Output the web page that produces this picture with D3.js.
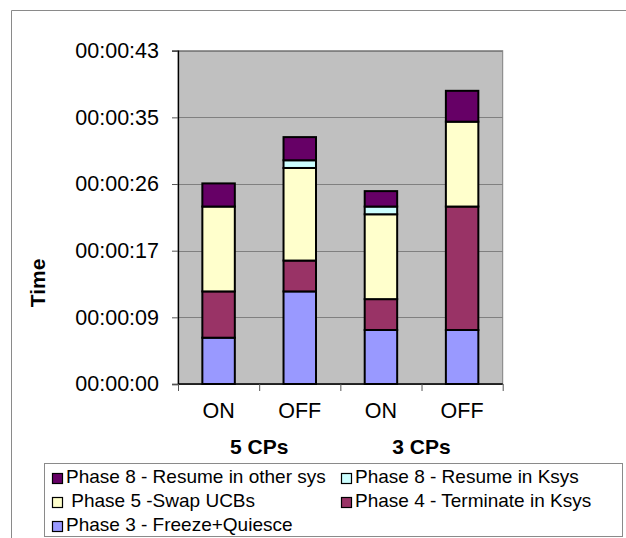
<!DOCTYPE html>
<html>
<head>
<meta charset="utf-8">
<script src="https://cdn.jsdelivr.net/npm/d3@7"></script>
<style>
  html, body { margin: 0; padding: 0; background: #ffffff; }
  svg { display: block; font-family: "Liberation Sans", Arial, Helvetica, sans-serif; }
</style>
</head>
<body>
<svg id="chart" width="626" height="538"></svg>
<script>
// Bar categories and their groups
const categories = ["ON", "OFF", "ON", "OFF"];
const groups = ["5 CPs", "3 CPs"];

// Phase durations in seconds, one value per bar (stacked bottom to top)
const phase3 = [6, 12, 7, 7];
const phase4 = [6, 4, 4, 16];
const phase5 = [11, 12, 11, 11];
const phase8Ksys = [0, 1, 1, 0];
const phase8Other = [3, 3, 2, 4];

const seriesNames = [
  "Phase 3 - Freeze+Quiesce",
  "Phase 4 - Terminate in Ksys",
  " Phase 5 -Swap UCBs",
  "Phase 8 - Resume in Ksys",
  "Phase 8 - Resume in other sys"
];
const seriesColors = ["#9999FF", "#993366", "#FFFFCC", "#CCFFFF", "#660066"];

// Axis ticks in seconds (steps of 0.0001 day)
const yTicks = [0, 8.64, 17.28, 25.92, 34.56, 43.2];

const seriesValues = [phase3, phase4, phase5, phase8Ksys, phase8Other];
const table = categories.map((c, i) => {
  const row = { idx: i };
  seriesNames.forEach((s, k) => { row[s] = seriesValues[k][i]; });
  return row;
});

const svg = d3.select("#chart");
const plot = { left: 178, top: 50.7, right: 502.7, bottom: 384 };

// Outer chart frame
svg.append("path")
  .attr("d", "M11.5,538 V10.5 H626")
  .attr("fill", "none")
  .attr("stroke", "#8a8a8a")
  .attr("stroke-width", 1);

const x = d3.scaleBand()
  .domain(d3.range(categories.length))
  .range([plot.left, plot.right])
  .paddingInner(0.6)
  .paddingOuter(0.3);
const xCat = d3.scaleBand()
  .domain(d3.range(categories.length))
  .range([plot.left, plot.right]);
const y = d3.scaleLinear()
  .domain([0, yTicks[yTicks.length - 1]])
  .range([plot.bottom, plot.top]);

// Plot area background
svg.append("rect")
  .attr("x", plot.left).attr("y", plot.top)
  .attr("width", plot.right - plot.left)
  .attr("height", plot.bottom - plot.top)
  .attr("fill", "#C0C0C0")
  .attr("stroke", "#808080")
  .attr("stroke-width", 1);

// Gridlines
svg.append("g")
  .selectAll("line")
  .data(yTicks)
  .join("line")
  .attr("x1", plot.left).attr("x2", plot.right)
  .attr("y1", d => Math.round(y(d)) + 0.5)
  .attr("y2", d => Math.round(y(d)) + 0.5)
  .attr("stroke", "#808080")
  .attr("stroke-width", 1);

// Stacked bars
const stack = d3.stack().keys(seriesNames);
const layers = stack(table);
svg.append("g")
  .selectAll("g")
  .data(layers)
  .join("g")
  .attr("fill", (d, i) => seriesColors[i])
  .selectAll("rect")
  .data(d => d.filter(p => p[1] - p[0] > 0))
  .join("rect")
  .attr("x", d => x(d.data.idx))
  .attr("width", x.bandwidth())
  .attr("y", d => y(d[1]))
  .attr("height", d => y(d[0]) - y(d[1]))
  .attr("stroke", "#000")
  .attr("stroke-width", 2);

// Y axis
const fmtTime = s => {
  const t = Math.round(s);
  const hh = Math.floor(t / 3600), mm = Math.floor((t % 3600) / 60), ss = t % 60;
  return [hh, mm, ss].map(v => String(v).padStart(2, "0")).join(":");
};
const yAxis = svg.append("g")
  .attr("transform", `translate(${plot.left},0)`)
  .call(d3.axisLeft(y).tickValues(yTicks).tickFormat(fmtTime).tickSize(6).tickPadding(13));
yAxis.select(".domain").attr("stroke", "#000").attr("stroke-width", 1.3);
yAxis.selectAll(".tick line").attr("stroke", "#555");
yAxis.selectAll("text")
  .attr("fill", "#000")
  .style("font-size", "21.5px");

// X axis
const xAxis = svg.append("g")
  .attr("transform", `translate(0,${plot.bottom})`)
  .call(d3.axisBottom(x).tickFormat(i => categories[i]).tickSize(0).tickPadding(19));
xAxis.select(".domain").remove();
xAxis.selectAll("text").attr("fill", "#000").style("font-size", "21.5px");
svg.append("line")
  .attr("x1", plot.left).attr("x2", plot.right)
  .attr("y1", plot.bottom).attr("y2", plot.bottom)
  .attr("stroke", "#000").attr("stroke-width", 1.3);
svg.append("g")
  .selectAll("line")
  .data(d3.range(categories.length + 1))
  .join("line")
  .attr("x1", i => (i < categories.length ? xCat(i) : plot.right) + 0.5)
  .attr("x2", i => (i < categories.length ? xCat(i) : plot.right) + 0.5)
  .attr("y1", plot.bottom)
  .attr("y2", plot.bottom + 7)
  .attr("stroke", "#555");

// Group labels
svg.append("g")
  .selectAll("text")
  .data(groups)
  .join("text")
  .attr("x", (g, i) => xCat(i * 2) + xCat.bandwidth())
  .attr("y", 454)
  .attr("text-anchor", "middle")
  .style("font-size", "21px")
  .style("font-weight", "bold")
  .text(d => d);

// Y axis title
svg.append("text")
  .attr("transform", "translate(45,283) rotate(-90)")
  .attr("text-anchor", "middle")
  .style("font-size", "21px")
  .style("font-weight", "bold")
  .text("Time");

// Legend
const legend = svg.append("g");
legend.append("rect")
  .attr("x", 44.5).attr("y", 463.5)
  .attr("width", 578).attr("height", 73)
  .attr("fill", "#fff")
  .attr("stroke", "#8a8a8a");
const legendOrder = [4, 3, 2, 1, 0];
const colX = [52, 341];
const rowY = [483, 507, 531];
const items = legend.selectAll("g.item")
  .data(legendOrder)
  .join("g")
  .attr("class", "item")
  .attr("transform", (k, j) => `translate(${colX[j % 2]},${rowY[Math.floor(j / 2)]})`);
items.append("rect")
  .attr("x", 0.5).attr("y", -9.5)
  .attr("width", 10).attr("height", 10)
  .attr("fill", k => seriesColors[k])
  .attr("stroke", "#000")
  .attr("stroke-width", 1.2);
items.append("text")
  .attr("x", 14)
  .attr("y", 0)
  .style("font-size", "19px")
  .style("white-space", "pre")
  .attr("xml:space", "preserve")
  .text(k => seriesNames[k]);
</script>
</body>
</html>
